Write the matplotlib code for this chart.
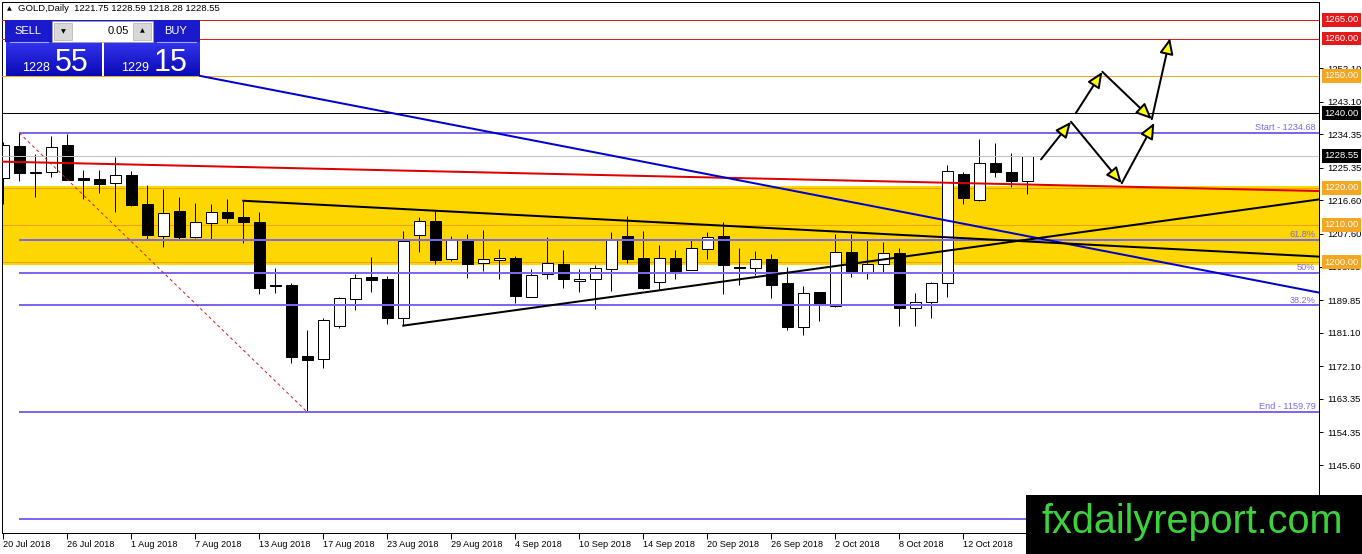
import matplotlib
matplotlib.use("Agg")
import matplotlib.pyplot as plt
import numpy as np
from matplotlib.patches import Rectangle, FancyArrowPatch
from matplotlib.transforms import blended_transform_factory
from matplotlib.colors import LinearSegmentedColormap

plt.rcParams['font.family'] = ['Liberation Sans', 'DejaVu Sans']

# ---------------- data (GOLD daily, 20 Jul 2018 - 18 Oct 2018) ----------------
opens = [1222.5, 1231.2, 1224.0, 1224.1, 1231.5, 1222.6, 1222.3, 1221.2, 1223.3, 1215.6,
         1207.1, 1213.8, 1206.9, 1210.6, 1213.5, 1212.1, 1210.7, 1193.8, 1193.8, 1174.8,
         1174.0, 1183.0, 1190.1, 1196.0, 1195.5, 1185.0, 1207.2, 1211.0, 1200.8, 1206.0,
         1199.8, 1200.5, 1201.2, 1190.8, 1196.8, 1199.5, 1194.9, 1195.4, 1198.3, 1207.0,
         1201.1, 1194.6, 1201.1, 1197.8, 1203.5, 1207.0, 1198.7, 1198.4, 1200.8, 1194.3,
         1182.5, 1191.9, 1188.3, 1202.7, 1197.2, 1199.4, 1202.4, 1187.6, 1189.4, 1194.4,
         1223.6, 1216.7, 1226.5, 1224.3, 1221.75]
highs = [1232.3, 1234.68, 1229.0, 1233.9, 1234.4, 1224.8, 1224.8, 1228.2, 1224.6, 1220.6,
         1219.7, 1217.5, 1216.0, 1215.6, 1216.9, 1216.5, 1213.4, 1198.4, 1194.3, 1181.8,
         1185.0, 1190.8, 1196.8, 1201.3, 1196.3, 1208.5, 1212.2, 1213.8, 1207.0, 1207.6,
         1208.7, 1203.6, 1201.7, 1198.1, 1206.7, 1203.3, 1198.1, 1199.2, 1208.1, 1212.4,
         1208.5, 1204.6, 1203.3, 1206.0, 1208.1, 1210.7, 1203.7, 1203.0, 1202.1, 1198.6,
         1193.6, 1192.1, 1207.5, 1207.5, 1206.0, 1205.4, 1203.7, 1191.7, 1194.6, 1226.1,
         1224.1, 1233.0, 1231.9, 1229.2, 1228.59]
lows = [1215.5, 1221.9, 1217.6, 1222.8, 1222.0, 1217.0, 1218.7, 1213.6, 1215.2, 1206.3,
        1204.2, 1206.3, 1206.6, 1206.3, 1210.4, 1205.2, 1191.5, 1191.7, 1172.9, 1159.79,
        1171.5, 1182.4, 1187.2, 1192.1, 1183.4, 1183.0, 1202.8, 1199.4, 1200.3, 1195.9,
        1197.7, 1195.4, 1189.2, 1190.6, 1195.4, 1193.2, 1191.9, 1187.4, 1192.4, 1199.9,
        1192.7, 1192.7, 1195.5, 1197.8, 1200.9, 1191.5, 1193.9, 1196.7, 1190.3, 1181.8,
        1180.5, 1184.3, 1188.1, 1196.1, 1195.5, 1197.0, 1182.9, 1183.0, 1185.0, 1190.8,
        1215.5, 1216.4, 1223.0, 1220.3, 1218.28]
closes = [1231.5, 1224.0, 1224.3, 1231.0, 1222.1, 1222.0, 1221.1, 1223.3, 1215.4, 1207.4,
          1213.1, 1206.7, 1210.7, 1213.4, 1212.0, 1210.9, 1193.2, 1193.5, 1174.5, 1173.9,
          1184.5, 1190.3, 1195.7, 1195.2, 1185.0, 1205.7, 1211.0, 1200.6, 1206.0, 1199.4,
          1200.8, 1201.1, 1191.0, 1196.5, 1199.7, 1195.4, 1195.5, 1198.4, 1206.0, 1200.9,
          1193.0, 1201.1, 1197.7, 1203.7, 1206.7, 1199.2, 1198.4, 1200.8, 1193.9, 1182.5,
          1191.7, 1188.9, 1202.7, 1197.2, 1199.4, 1202.4, 1187.6, 1189.4, 1194.4, 1224.6,
          1217.3, 1226.5, 1224.3, 1221.9, 1228.55]

date_tick_idx = [0, 4, 8, 12, 16, 20, 24, 28, 32, 36, 40, 44, 48, 52, 56, 60]
date_labels = ['20 Jul 2018', '26 Jul 2018', '1 Aug 2018', '7 Aug 2018', '13 Aug 2018',
               '17 Aug 2018', '23 Aug 2018', '29 Aug 2018', '4 Sep 2018', '10 Sep 2018',
               '14 Sep 2018', '20 Sep 2018', '26 Sep 2018', '2 Oct 2018', '8 Oct 2018',
               '12 Oct 2018']
price_ticks = [1252.10, 1243.10, 1234.35, 1225.35, 1216.60, 1207.60, 1198.85,
               1189.85, 1181.10, 1172.10, 1163.35, 1154.35, 1145.60, 1136.85]

# horizontal levels with price boxes
red_levels = [1265.00, 1260.00]
orange_levels = [1250.00]
black_levels = [1240.00]
zone_levels = [1220.00, 1210.00, 1200.00]
zone_bounds = [1199.3, 1220.5]
bid_price = 1228.55

# fibonacci tool
fib_start_idx, fib_start = 1, 1234.68
fib_end_idx, fib_end = 19, 1159.79
fib_ratios = [0.618, 0.5, 0.382, -0.382]
fib_labels = ['61.8%', '50%', '38.2%', '']

# trendlines (bar index, price)
red_trend_x, red_trend_y = [-0.1, 82.3], [1227.0, 1219.1]
blue_trend_x, blue_trend_y = [12.3, 82.3], [1250.0, 1191.8]
black_down_x, black_down_y = [15, 82.3], [1216.5, 1201.5]
black_up_x, black_up_y = [25, 82.3], [1183.0, 1216.9]

# projected path arrows
arrow_x0 = [64.86, 66.73, 69.90, 67.03, 68.69, 71.78]
arrow_y0 = [1227.6, 1237.7, 1221.2, 1240.0, 1251.1, 1238.4]
arrow_x1 = [66.73, 69.90, 71.94, 68.69, 71.78, 72.92]
arrow_y1 = [1237.7, 1221.2, 1237.4, 1251.1, 1238.4, 1260.1]

# ---------------- figure ----------------
W, H = 1362, 554
fig = plt.figure(figsize=(W / 100, H / 100), dpi=100)
fig.patch.set_facecolor('white')
ax = fig.add_axes([2 / W, 21 / H, 1317 / W, 531 / H])
ax.set_facecolor('white')

px_per_bar = 16.0
x0_px = 3.3
px_per_usd = 3.727
ax.set_xlim((2 - x0_px) / px_per_bar, (1319 - x0_px) / px_per_bar)
ax.set_ylim(1265 - (533 - 20) / px_per_usd, 1265 + 18 / px_per_usd)

LW1 = 0.72
LW2 = 1.44
slate = '#7b68ee'
orange = '#f5a623'
red = '#e3191b'

# zone
ax.axhspan(zone_bounds[0], zone_bounds[1], color='#ffd700', zorder=0.5, lw=0)
for lv in zone_levels:
    ax.axhline(lv, color='#f0a000', lw=LW1, zorder=0.6)

# candles
xs = np.arange(len(opens))
o = np.array(opens); c = np.array(closes)
bottoms = np.minimum(o, c)
heights = np.maximum(np.abs(c - o), 0.27)
colors = ['white' if cc >= oo else 'black' for oo, cc in zip(o, c)]
ax.vlines(xs, lows, highs, color='black', lw=LW1, zorder=1.9)
ax.bar(xs, heights, bottom=bottoms, width=0.66, color=colors, edgecolor='black',
       linewidth=LW1, zorder=2)

# horizontal lines
for lv in red_levels:
    ax.axhline(lv, color=red, lw=LW1, zorder=3)
for lv in orange_levels:
    ax.axhline(lv, color=orange, lw=LW1, zorder=3)
for lv in black_levels:
    ax.axhline(lv, color='black', lw=LW1, zorder=3)
ax.axhline(bid_price, color='#c0c0c0', lw=LW1, zorder=3)

# fibonacci
xr = ax.get_xlim()[1]
rng = fib_start - fib_end
fib_prices = [fib_start, fib_end] + [fib_end + r * rng for r in fib_ratios]
for p in fib_prices:
    ax.plot([fib_start_idx, xr], [p, p], color=slate, lw=LW2, zorder=3.2,
            solid_capstyle='butt')
ax.plot([fib_start_idx, fib_end_idx], [fib_start, fib_end], color='#d02020',
        lw=LW1, ls=(0, (3, 3)), zorder=3.2)
btr = blended_transform_factory(ax.transAxes, ax.transData)
fib_texts = ['Start - %.2f' % fib_start, 'End - %.2f' % fib_end] + fib_labels
for p, t in zip(fib_prices, fib_texts):
    if t:
        ax.annotate(t, xy=(1.0, p), xycoords=btr, xytext=(-2.5, 0.6),
                    textcoords='offset points', ha='right', va='bottom',
                    fontsize=6.6, color=slate, zorder=3.3)

# trendlines
ax.plot(red_trend_x, red_trend_y, color='#dd0000', lw=LW2, zorder=3.4)
ax.plot(blue_trend_x, blue_trend_y, color='#0000cc', lw=LW2, zorder=3.5)
ax.plot(black_down_x, black_down_y, color='black', lw=LW2, zorder=3.5)
ax.plot(black_up_x, black_up_y, color='black', lw=LW2, zorder=3.5)

# arrows
for xa, ya, xb, yb in zip(arrow_x0, arrow_y0, arrow_x1, arrow_y1):
    ar = FancyArrowPatch((xa, ya), (xb, yb),
                         arrowstyle='-|>,head_length=9.5,head_width=4.2',
                         mutation_scale=1, shrinkA=0, shrinkB=0,
                         facecolor='#ffff00', edgecolor='black', lw=LW2, zorder=4)
    ax.add_patch(ar)

# axes styling
for s in ax.spines.values():
    s.set_color('black')
    s.set_linewidth(LW1)
ax.yaxis.tick_right()
ax.set_yticks(price_ticks)
ax.set_yticklabels(['%.2f' % v for v in price_ticks])
ax.tick_params(axis='y', direction='out', length=3, width=LW1, pad=3, labelsize=6.8,
               colors='black')
ax.set_xticks(date_tick_idx)
ax.set_xticklabels(date_labels)
ax.tick_params(axis='x', direction='out', length=4, width=LW1, pad=1.2, labelsize=6.6)
for lbl in ax.get_xticklabels():
    lbl.set_ha('left')

# price boxes on the right axis
boxes = [(p, red) for p in red_levels] + [(p, orange) for p in orange_levels] + \
        [(p, 'black') for p in black_levels] + [(bid_price, 'black')] + \
        [(p, orange) for p in zone_levels]
for p, fc in boxes:
    ax.text(1.0 + 5 / 1317, p, '%.2f' % p, transform=btr, ha='left', va='center',
            fontsize=6.8, color='white', zorder=5, clip_on=False,
            bbox=dict(boxstyle='square,pad=0.25', fc=fc, ec='none'))

# ---------------- overlay: trade panel, header, watermark ----------------
ov = fig.add_axes([0, 0, 1, 1], zorder=10)
ov.patch.set_alpha(0)
ov.axis('off')

blue_cmap = LinearSegmentedColormap.from_list('bl', ['#3333ee', '#0a0ab4'])
grad = np.linspace(0, 1, 64)[:, None]
ov.add_patch(Rectangle((5, 20), 195, 22, fc='#1a1acc', ec='none', zorder=1))
ov.imshow(grad, extent=(6, 102, 76, 42), cmap=blue_cmap, aspect='auto', zorder=2)
ov.imshow(grad, extent=(104, 199.5, 76, 42), cmap=blue_cmap, aspect='auto', zorder=2)
ov.add_patch(Rectangle((52, 20.5), 101, 21.5, fc='white', ec='#a0a0a0', lw=0.5, zorder=3))
ov.add_patch(Rectangle((54, 22.5), 18, 17.5, fc='#d8d8d8', ec='#b0b0b0', lw=0.5, zorder=4))
ov.add_patch(Rectangle((133, 22.5), 18, 17.5, fc='#d8d8d8', ec='#b0b0b0', lw=0.5, zorder=4))
ov.plot([10, 48], [42, 42], color='#9aa8ff', lw=0.8, zorder=4)
ov.plot([157, 196], [42, 42], color='#9aa8ff', lw=0.8, zorder=4)
ov.text(28, 31.5, 'SELL', ha='center', va='center', fontsize=8, color='white', zorder=5)
ov.text(176, 31.5, 'BUY', ha='center', va='center', fontsize=8, color='white', zorder=5)
ov.text(129, 31, '0.05', ha='right', va='center', fontsize=8, color='black', zorder=5)
ov.text(63, 31.5, '\u25bc', ha='center', va='center', fontsize=4.5, color='black',
        family=['DejaVu Sans'], zorder=5)
ov.text(142, 30.5, '\u25b2', ha='center', va='center', fontsize=4.5, color='black',
        family=['DejaVu Sans'], zorder=5)
bid_str = '%.2f' % closes[-1]
ask_str = '%.2f' % (closes[-1] + 0.60)
ov.text(22, 71, bid_str[:4], ha='left', va='baseline', fontsize=9, color='white', zorder=5)
ov.text(55, 71, bid_str[-2:], ha='left', va='baseline', fontsize=22, color='white', zorder=5)
ov.text(121, 71, ask_str[:4], ha='left', va='baseline', fontsize=9, color='white', zorder=5)
ov.text(154, 71, ask_str[-2:], ha='left', va='baseline', fontsize=22, color='white', zorder=5)

ov.text(9.5, 8.5, '\u25b2', ha='center', va='center', fontsize=4.5, color='black',
        family=['DejaVu Sans'], zorder=5)
ov.text(18, 8.5, 'GOLD,Daily  %.2f %.2f %.2f %.2f' % (opens[-1], highs[-1], lows[-1], closes[-1]),
        ha='left', va='center', fontsize=6.8, color='black', zorder=5)

ov.add_patch(Rectangle((1026, 495), 340, 62, fc='black', ec='none', zorder=6))
ov.text(1041.5, 533.3, 'fxdailyreport.com', ha='left', va='baseline', fontsize=28.5,
        color='#3cd23c', zorder=7)

ov.set_xlim(0, W)
ov.set_ylim(H, 0)

fig.savefig('out.png', dpi=100)
